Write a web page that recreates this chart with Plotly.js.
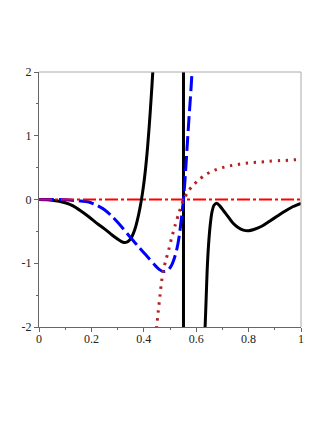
<!DOCTYPE html>
<html>
<head>
<meta charset="utf-8">
<script src="https://cdn.plot.ly/plotly-3.0.1.min.js"></script>
<style>
  html, body { margin: 0; padding: 0; background: #fff; }
  #plot { width: 327px; height: 423px; }
</style>
</head>
<body>
<div id="plot"></div>
<script>
// black solid curve: left branch, pole near x=0.5515, right branch
var blackLeftX = [0, 0.05, 0.1, 0.13, 0.16, 0.19, 0.22, 0.25, 0.28, 0.3, 0.315, 0.325, 0.335, 0.345, 0.355, 0.365, 0.375, 0.385, 0.395, 0.405, 0.415, 0.425, 0.435, 0.442];
var blackLeftY = [0, -0.01, -0.05, -0.1, -0.18, -0.27, -0.37, -0.46, -0.56, -0.62, -0.66, -0.675, -0.67, -0.64, -0.58, -0.48, -0.33, -0.14, 0.1, 0.42, 0.85, 1.4, 2.05, 2.6];
var blackPoleX = [0.5515, 0.5515];
var blackPoleY = [3, -3];
var blackRightX = [0.628, 0.634, 0.638, 0.642, 0.647, 0.653, 0.66, 0.668, 0.678, 0.69, 0.705, 0.72, 0.74, 0.76, 0.78, 0.8, 0.82, 0.85, 0.88, 0.91, 0.94, 0.97, 1.0];
var blackRightY = [-2.6, -2.0, -1.55, -1.1, -0.72, -0.42, -0.2, -0.09, -0.06, -0.1, -0.18, -0.26, -0.37, -0.44, -0.48, -0.49, -0.47, -0.42, -0.34, -0.26, -0.18, -0.11, -0.06];

// blue dashed curve
var blueX = [0, 0.05, 0.1, 0.15, 0.19, 0.22, 0.25, 0.28, 0.32, 0.35, 0.38, 0.41, 0.44, 0.46, 0.475, 0.49, 0.505, 0.515, 0.525, 0.535, 0.545, 0.552, 0.558, 0.565, 0.572, 0.578, 0.584, 0.59];
var blueY = [0, 0, -0.005, -0.02, -0.04, -0.09, -0.16, -0.27, -0.45, -0.6, -0.74, -0.88, -1.02, -1.1, -1.13, -1.12, -1.04, -0.94, -0.8, -0.58, -0.24, 0.03, 0.35, 0.8, 1.25, 1.6, 2.0, 2.5];

// brown dotted curve
var brownX = [0.44, 0.449, 0.455, 0.462, 0.468, 0.475, 0.485, 0.495, 0.505, 0.52, 0.535, 0.55, 0.57, 0.59, 0.61, 0.64, 0.67, 0.7, 0.73, 0.76, 0.79, 0.82, 0.85, 0.88, 0.92, 0.95, 0.98, 1.0];
var brownY = [-2.4, -2.0, -1.76, -1.5, -1.28, -1.1, -0.94, -0.79, -0.62, -0.4, -0.2, -0.02, 0.13, 0.23, 0.31, 0.4, 0.46, 0.5, 0.53, 0.55, 0.57, 0.58, 0.59, 0.6, 0.61, 0.615, 0.625, 0.63];

// red dash-dot line at zero
var redX = [0, 1];
var redY = [0, 0];

var xTickVals = [0, 0.2, 0.4, 0.6, 0.8, 1];
var xTickText = ['0', '0.2', '0.4', '0.6', '0.8', '1'];
var yTickVals = [-2, -1, 0, 1, 2];
var yTickText = ['-2', '-1', '0', '1', '2'];

var traces = [
  { x: blackLeftX, y: blackLeftY, mode: 'lines', line: { color: '#000000', width: 3, shape: 'spline', smoothing: 0.8 }, hoverinfo: 'skip' },
  { x: blackPoleX, y: blackPoleY, mode: 'lines', line: { color: '#000000', width: 3 }, hoverinfo: 'skip' },
  { x: blackRightX, y: blackRightY, mode: 'lines', line: { color: '#000000', width: 3, shape: 'spline', smoothing: 0.8 }, hoverinfo: 'skip' },
  { x: blueX, y: blueY, mode: 'lines', line: { color: '#0000ff', width: 3, dash: '15px,5px', shape: 'spline', smoothing: 0.8 }, hoverinfo: 'skip' },
  { x: brownX, y: brownY, mode: 'lines', line: { color: '#b22222', width: 3, dash: '2.5px,5.5px', shape: 'spline', smoothing: 0.8 }, hoverinfo: 'skip' },
  { x: redX, y: redY, mode: 'lines', line: { color: '#ff0000', width: 2, dash: '13px,3px,3px,3px' }, hoverinfo: 'skip' }
];

var layout = {
  width: 327,
  height: 423,
  margin: { l: 39, r: 26, t: 72, b: 96 },
  showlegend: false,
  paper_bgcolor: '#ffffff',
  plot_bgcolor: '#ffffff',
  font: { family: 'Liberation Serif, serif', size: 12, color: '#222222' },
  xaxis: {
    range: [0, 1],
    tickvals: xTickVals,
    ticktext: xTickText,
    ticks: 'outside',
    ticklen: 4,
    tickcolor: '#666666',
    ticklabelstandoff: -3,
    showline: true,
    linecolor: '#666666',
    linewidth: 1,
    showgrid: false,
    zeroline: false,
    minor: { dtick: 0.1, ticks: 'outside', ticklen: 2, tickcolor: '#666666' }
  },
  yaxis: {
    range: [-2, 2],
    tickvals: yTickVals,
    ticktext: yTickText,
    ticks: 'outside',
    ticklen: 4,
    tickcolor: '#666666',
    showline: true,
    linecolor: '#666666',
    linewidth: 1,
    showgrid: false,
    zeroline: false,
    minor: { dtick: 0.5, ticks: 'outside', ticklen: 2, tickcolor: '#666666' }
  },
  shapes: [
    { type: 'line', xref: 'paper', yref: 'paper', x0: 0, x1: 1, y0: 1, y1: 1, line: { color: '#aaaaaa', width: 1 } },
    { type: 'line', xref: 'paper', yref: 'paper', x0: 1, x1: 1, y0: 0, y1: 1, line: { color: '#aaaaaa', width: 1 } }
  ]
};

Plotly.newPlot('plot', traces, layout, { displayModeBar: false, staticPlot: true });
</script>
</body>
</html>
